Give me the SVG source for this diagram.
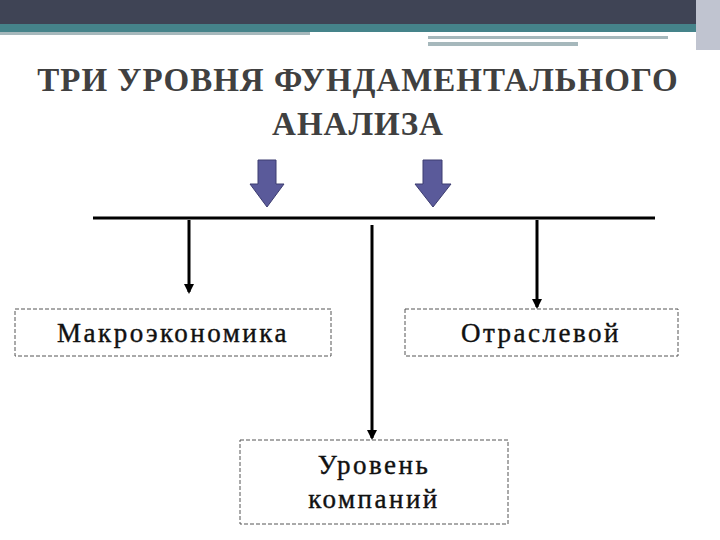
<svg xmlns="http://www.w3.org/2000/svg" width="720" height="540" viewBox="0 0 720 540">
<defs>
<style>
.t{font-family:"Liberation Serif","Times New Roman",serif;font-weight:bold;fill:#404040;text-anchor:middle;letter-spacing:1px}
.l{stroke:#000;stroke-width:3;fill:none}
.b{fill:#fff;stroke:#555;stroke-width:1;stroke-dasharray:4,2}
.bt{font-family:"Liberation Serif","Times New Roman",serif;font-size:27px;fill:#111;text-anchor:middle;letter-spacing:2.5px;stroke:#111;stroke-width:0.4}
.ba{fill:#5a5a9a;stroke:#3c3c70;stroke-width:1}
</style>
<marker id="ah" markerWidth="10" markerHeight="10" refX="8" refY="5" orient="auto" markerUnits="userSpaceOnUse"><path d="M0,0 L10,5 L0,10 z" fill="#000"/></marker>
</defs>
<rect width="720" height="540" fill="#fff"/>
<rect x="0" y="0" width="720" height="24" fill="#3f4455"/>
<rect x="0" y="24" width="720" height="8" fill="#45838a"/>
<rect x="0" y="32" width="310" height="3" fill="#a6b8bc"/>
<rect x="428" y="36" width="240" height="3" fill="#a6b8bc"/>
<rect x="428" y="42" width="150" height="4" fill="#a6b8bc"/>
<rect x="696" y="0" width="24" height="50" fill="#c0c4d0"/>
<text class="t" x="358" y="91" font-size="33">ТРИ УРОВНЯ ФУНДАМЕНТАЛЬНОГО</text>
<text class="t" x="358" y="135" font-size="33">АНАЛИЗА</text>
<g id="arrows-in">
<path class="ba" d="M258,160 H276 V184 H284 L267,207 L250,184 H258 Z"/>
<path class="ba" d="M423,160 H442 V184 H451 L433,207 L415,184 H423 Z"/>
</g>
<g id="connectors">
<line class="l" x1="93" y1="218" x2="655" y2="218"/>
<line class="l" x1="189" y1="220" x2="189" y2="292" marker-end="url(#ah)"/>
<line class="l" x1="372" y1="225" x2="372" y2="438" marker-end="url(#ah)"/>
<line class="l" x1="537" y1="220" x2="537" y2="307" marker-end="url(#ah)"/>
</g>
<g id="macro"><rect class="b" x="15" y="309" width="316" height="47"/><text class="bt" x="173" y="342">Макроэкономика</text></g>
<g id="otrasl"><rect class="b" x="405" y="309" width="273" height="47"/><text class="bt" x="541" y="342">Отраслевой</text></g>
<g id="company"><rect class="b" x="240" y="440" width="268" height="84"/><text class="bt" x="374" y="474">Уровень</text><text class="bt" x="374" y="508">компаний</text></g>
</svg>
